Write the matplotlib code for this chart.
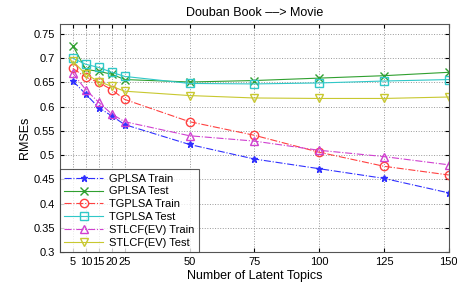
import matplotlib
matplotlib.use("Agg")
import matplotlib.pyplot as plt

plt.rcParams['font.family'] = ['Liberation Sans', 'DejaVu Sans']

topics = [5, 10, 15, 20, 25, 50, 75, 100, 125, 150]
gplsa_train = [0.653, 0.626, 0.598, 0.581, 0.563, 0.522, 0.492, 0.472, 0.452, 0.422]
gplsa_test = [0.726, 0.677, 0.673, 0.667, 0.656, 0.651, 0.654, 0.659, 0.664, 0.671]
tgplsa_train = [0.679, 0.661, 0.650, 0.635, 0.615, 0.569, 0.541, 0.506, 0.477, 0.459]
tgplsa_test = [0.700, 0.6875, 0.681, 0.671, 0.6625, 0.648, 0.647, 0.649, 0.653, 0.656]
stlcf_train = [0.669, 0.635, 0.609, 0.585, 0.569, 0.540, 0.529, 0.510, 0.497, 0.480]
stlcf_test = [0.694, 0.667, 0.652, 0.642, 0.632, 0.623, 0.618, 0.617, 0.617, 0.620]

fig = plt.figure(figsize=(4.57, 2.91), dpi=100)
ax = fig.add_axes([0.131, 0.134, 0.851, 0.784])

ax.plot(topics, gplsa_train, '-.', color='#3030ff', marker='*', ms=4.5, mfc='#3030ff', lw=0.8, label='GPLSA Train')
ax.plot(topics, gplsa_test, '-', color='#30a030', marker='x', ms=6, lw=0.8, label='GPLSA Test')
ax.plot(topics, tgplsa_train, '-.', color='#ff4040', marker='o', ms=6, mfc='none', lw=0.8, label='TGPLSA Train')
ax.plot(topics, tgplsa_test, '-', color='#30c8c8', marker='s', ms=6, mfc='none', lw=0.8, label='TGPLSA Test')
ax.plot(topics, stlcf_train, '-.', color='#d040d0', marker='^', ms=6, mfc='none', lw=0.8, label='STLCF(EV) Train')
ax.plot(topics, stlcf_test, '-', color='#c8c830', marker='v', ms=6, mfc='none', lw=0.8, label='STLCF(EV) Test')

ax.set_xlim(0, 150)
ax.set_ylim(0.3, 0.771)
ax.set_xticks(topics)
ax.set_yticks([0.3, 0.35, 0.4, 0.45, 0.5, 0.55, 0.6, 0.65, 0.7, 0.75])
ax.set_yticklabels(['0.3', '0.35', '0.4', '0.45', '0.5', '0.55', '0.6', '0.65', '0.7', '0.75'])
ax.tick_params(direction='in', labelsize=8, length=3, top=True, right=True)
ax.grid(True, linestyle=':', color='#999999', lw=0.7)
for s in ax.spines.values():
    s.set_color('#555555')

ax.set_title('Douban Book ––> Movie', fontsize=9)
ax.set_xlabel('Number of Latent Topics', fontsize=9, labelpad=2)
ax.set_ylabel('RMSEs', fontsize=9, labelpad=2)

leg = ax.legend(loc='lower left', fontsize=8, fancybox=False, borderaxespad=0,
                handlelength=3.5, labelspacing=0.25, borderpad=0.4, handletextpad=0.5)
leg.get_frame().set_edgecolor('#333333')
leg.get_frame().set_linewidth(0.8)

fig.savefig('out.png', dpi=100)
